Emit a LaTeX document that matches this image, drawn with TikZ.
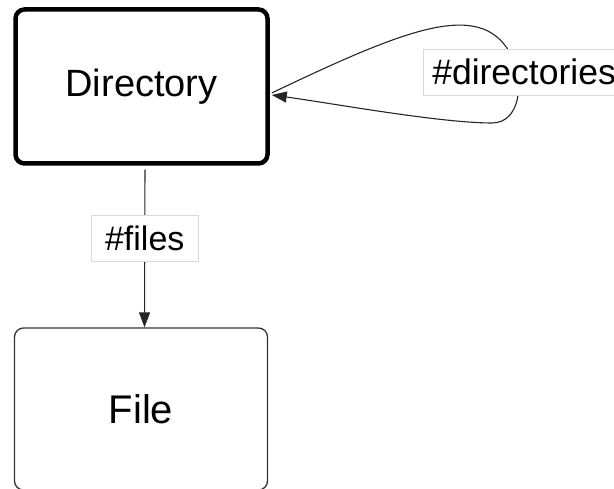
\documentclass[tikz,border=0pt]{standalone}
\usepackage{fontspec}
\setmainfont{Liberation Sans}
\usetikzlibrary{arrows.meta}
\begin{document}
\begin{tikzpicture}[x=1pt,y=1pt,
  box/.style={draw=black, fill=white, rounded corners=9pt, inner sep=0pt, font=\fontsize{38}{44}\selectfont},
  lbl/.style={draw=black!15, line width=0.6pt, fill=white, inner sep=0pt, font=\fontsize{34}{40}\selectfont},
  conn/.style={draw=black!85, line width=1.1pt, -{Triangle[length=15pt,width=11pt]}}]
\useasboundingbox (0,0) rectangle (614,489);
\clip (0,0) rectangle (614,489);
\node[box, line width=4.5pt, minimum width=252pt, minimum height=154pt] (dir) at (141.5,402.5) {Directory};
\node[box, line width=1.3pt, draw=black!80, minimum width=253pt, minimum height=162pt, font=\fontsize{40}{46}\selectfont] (file) at (141,80) {File};
% vertical connector
\draw[conn, shorten <=4pt] ([xshift=3.5pt]dir.south) -- ([xshift=3.5pt]file.north)
  node[lbl, pos=0.45, minimum width=107pt, minimum height=46pt] (lf) {\#files};
% self loop
\coordinate (ls) at ([shift={(2pt,-6.5pt)}]dir.east);
\coordinate (lt) at ([shift={(2pt,-8.5pt)}]dir.east);
\draw[conn] (ls) .. controls (410,462) and (485,492) .. (513,430)
  .. controls (524,406) and (520,366) .. (492,366)
  .. controls (440,366) and (330,386) .. (lt);
\node[lbl, anchor=west, minimum height=46pt, inner xsep=9pt, font=\fontsize{35.5}{41}\selectfont] (ld) at (423,417) {\#directories};
\end{tikzpicture}
\end{document}
